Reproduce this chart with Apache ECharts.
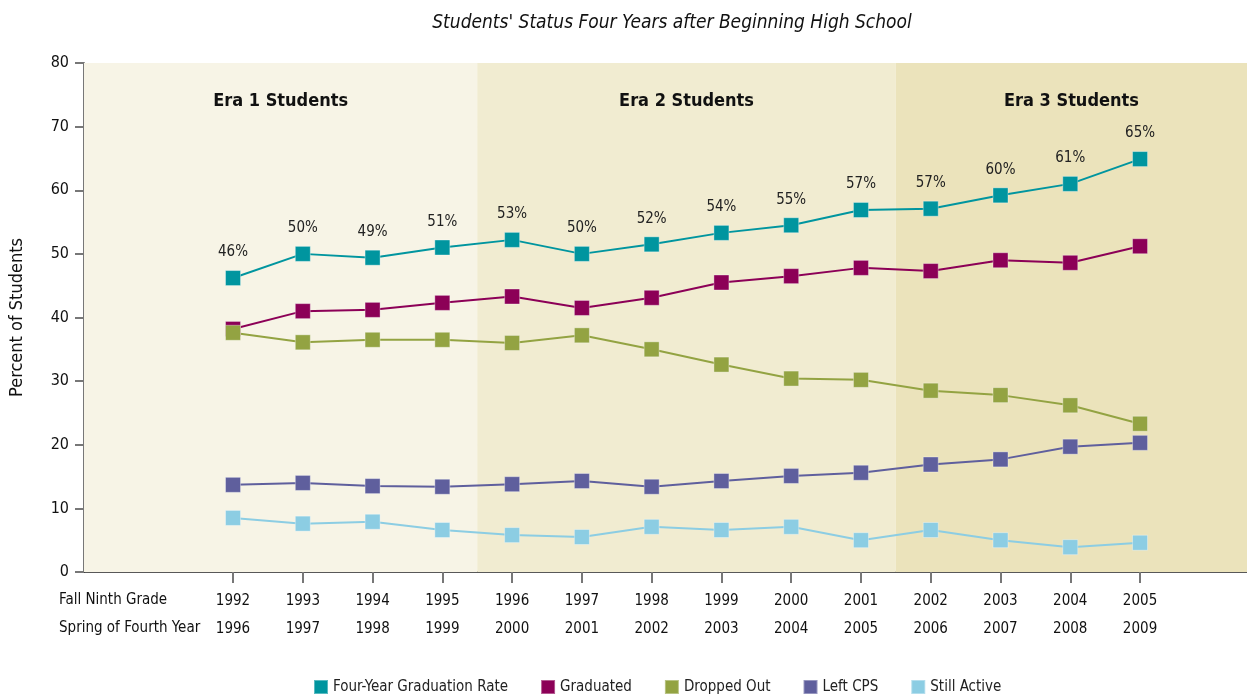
<!DOCTYPE html>
<html>
<head>
<meta charset="utf-8">
<script src="https://cdn.jsdelivr.net/npm/echarts@6/dist/echarts.min.js"></script>
<style>
html,body{margin:0;padding:0;background:#fff;}
#main{width:1247px;height:694px;}
</style>
</head>
<body>
<div id="main"></div>
<script>
var years = [1992,1993,1994,1995,1996,1997,1998,1999,2000,2001,2002,2003,2004,2005];
var gradRate = [46.2,50.0,49.4,51.0,52.2,50.0,51.5,53.3,54.5,56.9,57.1,59.2,61.0,64.9];
var gradRateLabels = ['46%','50%','49%','51%','53%','50%','52%','54%','55%','57%','57%','60%','61%','65%'];
var graduated = [38.2,41.0,41.2,42.3,43.3,41.5,43.1,45.5,46.5,47.8,47.3,49.0,48.6,51.2];
var droppedOut = [37.6,36.1,36.5,36.5,36.0,37.2,35.0,32.6,30.4,30.2,28.5,27.8,26.2,23.3];
var leftCPS = [13.7,14.0,13.5,13.4,13.8,14.3,13.4,14.3,15.1,15.6,16.9,17.7,19.7,20.3];
var stillActive = [8.5,7.6,7.9,6.6,5.8,5.5,7.1,6.6,7.1,5.0,6.6,5.0,3.9,4.6];
var eras = [
  {name:'Era 1 Students', from:1989.864, to:1995.5, color:'#f7f4e6'},
  {name:'Era 2 Students', from:1995.5, to:2001.5, color:'#f1ecd1'},
  {name:'Era 3 Students', from:2001.5, to:2006.533, color:'#ebe3bb'}
];

var font = '"Liberation Sans Narrow","DejaVu Sans Condensed",Arial,sans-serif';
var myChart = echarts.init(document.getElementById('main'));

function pairs(vals){
  return vals.map(function(v,i){ return [years[i], v]; });
}

function lineSeries(name, vals, color){
  return {
    name: name,
    type: 'line',
    data: pairs(vals),
    symbol: 'rect',
    symbolSize: 15,
    lineStyle: {color: color, width: 2},
    itemStyle: {color: color, borderColor: 'rgba(255,255,255,0.35)', borderWidth: 1},
    z: 3
  };
}

var s1 = lineSeries('Four-Year Graduation Rate', gradRate, '#00959f');
s1.z = 4;
s1.label = {
  show: true, position: 'top', distance: 10,
  fontFamily: font, fontSize: 15, color: '#222',
  formatter: function(p){ return gradRateLabels[p.dataIndex]; }
};
s1.markArea = {
  silent: true,
  label: {position: 'insideTop', distance: 29, fontFamily: font, fontSize: 18, fontWeight: 'bold', color: '#111'},
  data: eras.map(function(e){
    return [{name: e.name, xAxis: e.from, itemStyle: {color: e.color}}, {xAxis: e.to}];
  })
};

var option = {
  animation: false,
  textStyle: {fontFamily: font},
  title: {
    text: "Students' Status Four Years after Beginning High School",
    left: 667, top: 9, textAlign: 'center',
    textStyle: {fontFamily: font, fontSize: 19, fontStyle: 'italic', fontWeight: 'normal', color: '#111'}
  },
  grid: {left: 84, right: 0, top: 63, bottom: 122},
  legend: {
    top: 674, left: 308,
    itemWidth: 14, itemHeight: 14, itemGap: 32,
    icon: 'rect',
    textStyle: {fontFamily: font, fontSize: 15, color: '#222'},
    data: ['Four-Year Graduation Rate','Graduated','Dropped Out','Left CPS','Still Active']
  },
  xAxis: {
    type: 'value',
    min: 1989.864, max: 2006.533,
    splitLine: {show: false},
    axisLine: {lineStyle: {color: '#222', width: 1.5}},
    axisTick: {show: true, customValues: years, length: 11, lineStyle: {color: '#777', width: 2}},
    axisLabel: {
      customValues: years, margin: 15,
      fontFamily: font, fontSize: 15, color: '#111', lineHeight: 28,
      formatter: function(v){ return v + '\n' + (v + 4); }
    }
  },
  yAxis: {
    type: 'value',
    min: 0, max: 80, interval: 10,
    name: 'Percent of Students',
    nameLocation: 'middle', nameGap: 58, nameRotate: 90,
    nameTextStyle: {fontFamily: font, fontSize: 18, color: '#111'},
    axisLine: {show: true, lineStyle: {color: '#777', width: 2}},
    axisTick: {show: true, length: 9, lineStyle: {color: '#777', width: 2}},
    axisLabel: {fontFamily: font, fontSize: 16, color: '#111', margin: 15},
    splitLine: {lineStyle: {color: '#ffffff', width: 1.5}}
  },
  graphic: [
    {type: 'text', left: 59, top: 593, style: {text: 'Fall Ninth Grade', font: '15px ' + font, fill: '#111'}},
    {type: 'text', left: 59, top: 621, style: {text: 'Spring of Fourth Year', font: '15px ' + font, fill: '#111'}}
  ],
  series: [
    s1,
    lineSeries('Graduated', graduated, '#8c0057'),
    lineSeries('Dropped Out', droppedOut, '#93a342'),
    lineSeries('Left CPS', leftCPS, '#5f5f9d'),
    lineSeries('Still Active', stillActive, '#8ccde3')
  ]
};
myChart.setOption(option);
</script>
</body>
</html>
